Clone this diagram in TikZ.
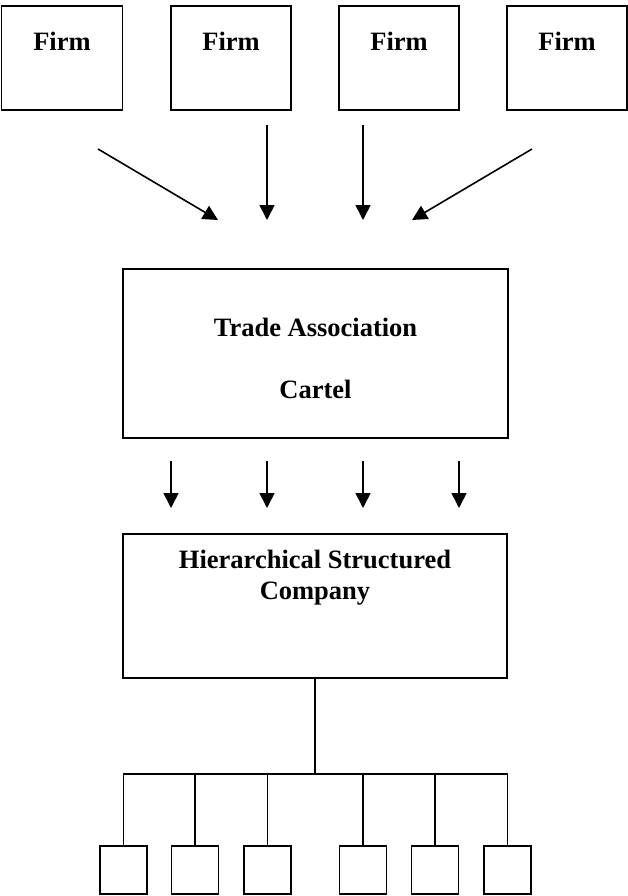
\documentclass[tikz,border=0pt]{standalone}
\usepackage{fontspec}
\setmainfont{Liberation Serif}
\usetikzlibrary{arrows.meta}
\begin{document}
\begin{tikzpicture}[x=1pt,y=-1pt,
  box/.style={draw,line width=1.8pt,rectangle,inner sep=0pt},
  lbl/.style={anchor=base,inner sep=0pt,font=\fontsize{26.5}{30}\selectfont\bfseries},
  arr/.style={line width=1.6pt,-{Triangle[length=15pt,width=15pt]}},
  ln/.style={line width=1.8pt}]
\useasboundingbox (0,0) rectangle (628,896);
% firms
\node[box,minimum width=121pt,minimum height=104pt] (f1) at (62,58) {};
\node[box,minimum width=120pt,minimum height=104pt] (f2) at (231,58) {};
\node[box,minimum width=120pt,minimum height=104pt] (f3) at (399,58) {};
\node[box,minimum width=120pt,minimum height=104pt] (f4) at (567,58) {};
\node[lbl] (t1) at (62,51) {Firm};
\node[lbl] (t2) at (231,51) {Firm};
\node[lbl] (t3) at (399,51) {Firm};
\node[lbl] (t4) at (567,51) {Firm};
% arrows into trade association
\coordinate (a1s) at (98,149);  \coordinate (a1e) at (218,220);
\coordinate (a2s) at (267,125); \coordinate (a2e) at (267,220);
\coordinate (a3s) at (363,125); \coordinate (a3e) at (363,220);
\coordinate (a4s) at (532,149); \coordinate (a4e) at (412,220);
\draw[arr] (a1s) -- (a1e);
\draw[arr] (a2s) -- (a2e);
\draw[arr] (a3s) -- (a3e);
\draw[arr] (a4s) -- (a4e);
% trade association
\node[box,minimum width=385pt,minimum height=169pt] (ta) at (315.5,353.5) {};
\node[lbl] (ta1) at (315.5,336) {Trade Association};
\node[lbl] (ta2) at (315.5,398) {Cartel};
% arrows down
\foreach \i/\x in {1/171,2/267,3/363,4/459}{
  \coordinate (m\i s) at (\x,461);
  \coordinate (m\i e) at (\x,508);
  \draw[arr] (m\i s) -- (m\i e);
}
% hierarchical company
\node[box,minimum width=384pt,minimum height=144pt] (hc) at (315,606) {};
\node[lbl] (hc1) at (315,568) {Hierarchical Structured};
\node[lbl] (hc2) at (315,599) {Company};
% tree
\coordinate (bus) at (315,774);
\foreach \i/\x in {1/123.5,2/195,3/267.5,4/363,5/435,6/507.5}{
  \node[box,minimum width=47pt,minimum height=48pt] (s\i) at (\x,870) {};
}
\draw[ln] (hc.south -| bus) -- (bus);
\draw[ln] (s1.north) |- (bus) -| (s6.north);
\foreach \i in {2,3,4,5}{
  \draw[ln] (s\i.north) -- (s\i.north |- bus);
}
\end{tikzpicture}
\end{document}
